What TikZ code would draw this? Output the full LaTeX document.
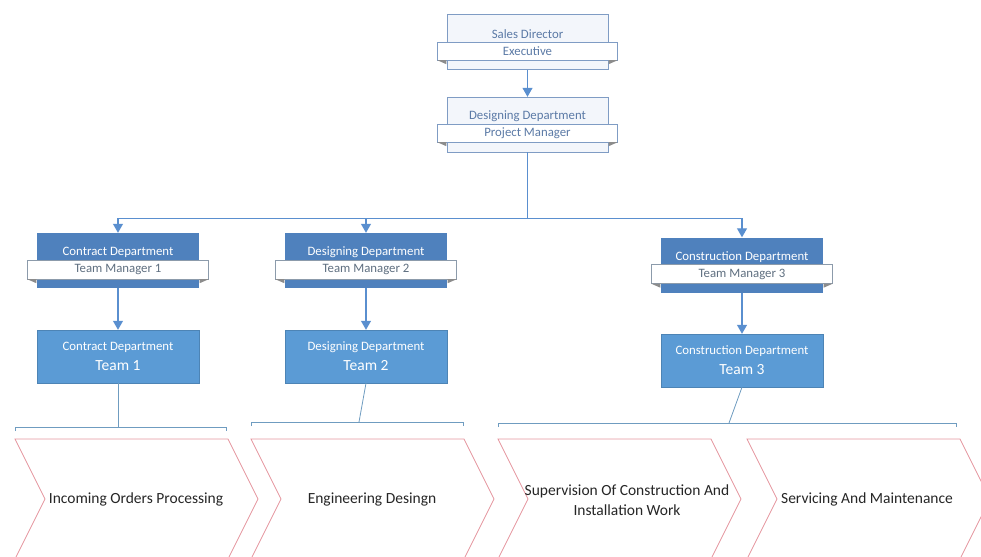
\documentclass[tikz,border=0pt]{standalone}
\usepackage{fontspec}
\setmainfont{Carlito}
\usetikzlibrary{arrows.meta,positioning}
\definecolor{topline}{HTML}{7F9CC4}
\definecolor{topfill}{HTML}{F3F6FB}
\definecolor{toptext}{HTML}{5B7AA6}
\definecolor{mgrfill}{HTML}{4F81BD}
\definecolor{teamfill}{HTML}{5B9BD5}
\definecolor{ribline}{HTML}{8C9BAB}
\definecolor{ribtext}{HTML}{5F6F80}
\definecolor{linkblue}{HTML}{5A8FCF}
\definecolor{brkline}{HTML}{6F9CC0}
\definecolor{chevline}{HTML}{E5959E}
\begin{document}
\begin{tikzpicture}[x=1pt,y=-1pt,
  topbox/.style={draw=topline,fill=topfill,minimum width=161pt,minimum height=55pt,inner sep=0pt},
  toptxt/.style={text=toptext,font=\fontsize{12.8}{14}\selectfont,inner sep=0pt},
  topribbon/.style={draw=topline,fill=white,text=toptext,font=\fontsize{12.8}{14}\selectfont,minimum width=180pt,minimum height=18pt,inner sep=0pt},
  mgrbox/.style={fill=mgrfill,minimum width=162pt,minimum height=55pt,inner sep=0pt},
  mgrtxt/.style={text=white,font=\fontsize{12.8}{14}\selectfont,inner sep=0pt},
  mgrribbon/.style={draw=ribline,fill=white,text=ribtext,font=\fontsize{12.8}{14}\selectfont,minimum width=181pt,minimum height=19pt,inner sep=0pt},
  teambox/.style={fill=teamfill,draw=teamfill!85!black,minimum width=162pt,minimum height=53pt,inner sep=0pt},
  teamtxt/.style={text=white,font=\fontsize{12.8}{14}\selectfont,inner sep=0pt},
  teamnum/.style={text=white,font=\fontsize{15.5}{17}\selectfont,inner sep=0pt},
  fold/.style={fill=black!45},
  link/.style={draw=linkblue,line width=1.1pt},
  arr/.style={link,-{Triangle[length=9pt,width=10pt]}},
  brk/.style={draw=brkline,line width=0.8pt},
  chev/.style={draw=chevline,line width=0.8pt,fill=white},
  chevtxt/.style={text=black!85,font=\fontsize{15.5}{19.5}\selectfont,align=center,inner sep=0pt}]
  \useasboundingbox (0,0) rectangle (981,556);
  \clip (0,0) rectangle (981,556);

  \node[topbox] (sd) at (527.5,42) {};
  \node[toptxt] (sdtxt) at (527.5,34) {Sales Director};
  \node[topribbon] (sdr) at (527.5,51) {Executive};
  \node[topbox] (pm) at (527.5,124.5) {};
  \node[toptxt] (pmtxt) at (527.5,116) {Designing Department};
  \node[topribbon] (pmr) at (527.5,133) {Project Manager};

  \foreach \nm/\x/\y/\dep/\num in {m1/118/260.5/Contract/1,m2/366/260.5/Designing/2,m3/742/265/Construction/3}{
    \node[mgrbox] (\nm) at (\x,\y) {};
    \node[mgrtxt] (\nm txt) at (\x,\y-8) {\dep\ Department};
    \node[mgrribbon] (\nm r) at (\x,\y+9) {Team Manager \num};
  }
  \foreach \r in {sdr,pmr,m1r,m2r,m3r}{
    \fill[fold] (\r.south west) -- ++(9,0) -- ++(0,4) -- cycle;
    \fill[fold] (\r.south east) -- ++(-9,0) -- ++(0,4) -- cycle;
  }

  \foreach \nm/\x/\y/\dep/\num in {t1/118/356.5/Contract/1,t2/366/356.5/Designing/2,t3/742/360.5/Construction/3}{
    \node[teambox] (\nm) at (\x,\y) {};
    \node[teamtxt] (\nm a) at (\x,\y-9) {\dep\ Department};
    \node[teamnum] (\nm b) at (\x,\y+9.5) {Team \num};
  }

  \draw[arr] (sd.south) -- (pm.north);
  \draw[link] (pm.south) -- ++(0,66) coordinate (bus);
  \foreach \nm in {m1,m2,m3}
    \draw[arr] (bus) -| (\nm.north);
  \foreach \nm in {1,2,3}
    \draw[arr] (m\nm.south) -- (t\nm.north);

  \foreach \nm/\xa/\xb/\y in {b1/15/226/427,b2/251/463/422,b3/498/956/423}
    \draw[brk] (\xa,\y+4) -- (\xa,\y) -- (\xb,\y) -- (\xb,\y+4);
  \coordinate (j1) at (118,427);
  \coordinate (j2) at (359,422);
  \coordinate (j3) at (729,423);
  \foreach \nm in {1,2,3}
    \draw[brk] (t\nm.south) -- (j\nm);

  \foreach \xa in {15,251,498,747}
    \draw[chev] (\xa,439) -- ++(213,0) -- ++(30,60) -- ++(-30,60) -- ++(-213,0) -- ++(30,-60) -- cycle;
  \node[chevtxt] (c1) at (136,499) {Incoming Orders Processing};
  \node[chevtxt] (c2) at (372,499) {Engineering Desingn};
  \node[chevtxt] (c3) at (627,500) {Supervision Of Construction And\\Installation Work};
  \node[chevtxt] (c4) at (867,499) {Servicing And Maintenance};
\end{tikzpicture}
\end{document}
